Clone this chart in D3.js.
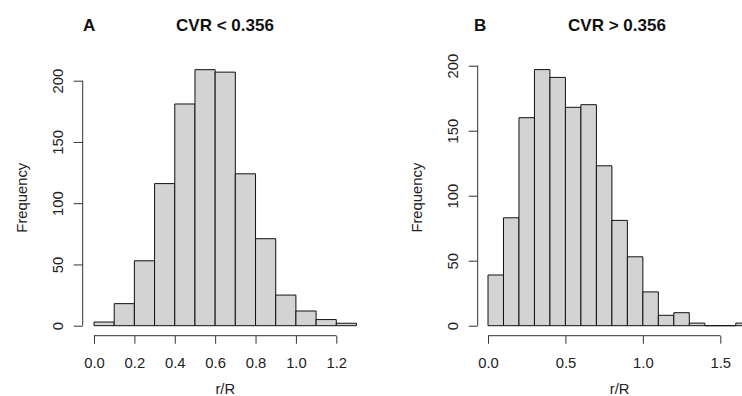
<!DOCTYPE html>
<html>
<head>
<meta charset="utf-8">
<script src="https://cdn.jsdelivr.net/npm/d3@7"></script>
<style>
  body { margin: 0; background: #fff; }
  svg { display: block; font-family: "Liberation Sans", Arial, sans-serif; }
</style>
</head>
<body>
<script>
// histogram data, bins of width 0.1 starting at 0
var binWidth = 0.1;
var countsA = [3, 18, 53, 116, 181, 209, 207, 124, 71, 25, 12, 5, 2];
var countsB = [39, 83, 160, 197, 191, 168, 170, 123, 81, 53, 26, 8, 10, 2, 0, 0, 2];

var xTicksA = [0, 0.2, 0.4, 0.6, 0.8, 1.0, 1.2];
var xTicksB = [0, 0.5, 1.0, 1.5];
var yTicks = [0, 50, 100, 150, 200];

var letters = ["A", "B"];
var titles = ["CVR < 0.356", "CVR > 0.356"];

var svg = d3.select("body")
  .append("svg")
    .attr("width", 742)
    .attr("height", 396);

// panel layouts (pixel positions of the scales)
var panels = [
  { counts: countsA, xTicks: xTicksA, letter: letters[0], title: titles[0],
    x: d3.scaleLinear().domain([0, 1.2]).range([94, 336.3]),
    y: d3.scaleLinear().domain([0, 200]).range([325.7, 80.7]),
    axisX: 82.7, letterX: 83, titleX: 225 },
  { counts: countsB, xTicks: xTicksB, letter: letters[1], title: titles[1],
    x: d3.scaleLinear().domain([0, 1.5]).range([488, 720.3]),
    y: d3.scaleLinear().domain([0, 200]).range([325.7, 65.7]),
    axisX: 477.7, letterX: 474, titleX: 617 }
];

var fmt = d3.format(".1f");

panels.forEach(function(p) {
  var g = svg.append("g");
  var nBins = p.counts.length;

  // bars as closed paths so empty bins still show a line at 0 (like R)
  g.selectAll("path.bar")
    .data(p.counts)
    .enter()
    .append("path")
      .attr("class", "bar")
      .attr("d", function(d, i) {
        var x0 = p.x(i * binWidth), x1 = p.x((i + 1) * binWidth);
        var y0 = p.y(0), y1 = p.y(d);
        return "M" + x0 + "," + y0 + "V" + y1 + "H" + x1 + "V" + y0 + "Z";
      })
      .attr("fill", "#d3d3d3")
      .attr("stroke", "#111")
      .attr("stroke-width", 1);

  // x axis
  var xAxis = d3.axisBottom(p.x)
    .tickValues(p.xTicks)
    .tickFormat(fmt)
    .tickSizeInner(8)
    .tickSizeOuter(0)
    .tickPadding(14);
  var gx = g.append("g")
    .attr("transform", "translate(0,335.7)")
    .call(xAxis);
  gx.select(".domain")
    .attr("d", "M" + p.x(p.xTicks[0]) + ",0H" + p.x(p.xTicks[p.xTicks.length - 1]));

  // y axis, labels turned like R's default
  var yAxis = d3.axisLeft(p.y)
    .tickValues(yTicks)
    .tickSizeInner(9)
    .tickSizeOuter(0);
  var gy = g.append("g")
    .attr("transform", "translate(" + p.axisX + ",0)")
    .call(yAxis);
  gy.select(".domain")
    .attr("d", "M0," + p.y(0) + "V" + p.y(200));
  gy.selectAll("text")
    .attr("transform", "rotate(-90)")
    .attr("x", 0)
    .attr("y", -20)
    .attr("dy", 0)
    .style("text-anchor", "middle");

  g.selectAll(".domain, .tick line")
    .attr("stroke", "#333");
  g.selectAll(".tick text")
    .attr("fill", "#222")
    .style("font-size", "14.8px")
    .style("font-family", "\"Liberation Sans\", Arial, sans-serif");

  // axis labels
  g.append("text")
    .attr("x", p.x(nBins * binWidth / 2))
    .attr("y", 394)
    .attr("text-anchor", "middle")
    .style("font-size", "14.8px")
    .attr("fill", "#222")
    .text("r/R");

  var midY = (p.y(0) + p.y(d3.max(p.counts))) / 2;
  g.append("text")
    .attr("transform", "translate(" + (p.axisX - 56) + "," + midY + ") rotate(-90)")
    .attr("text-anchor", "middle")
    .style("font-size", "14.8px")
    .attr("fill", "#222")
    .text("Frequency");

  // titles
  g.append("text")
    .attr("x", p.letterX)
    .attr("y", 30.5)
    .style("font-size", "17px")
    .style("font-weight", "bold")
    .attr("fill", "#111")
    .text(p.letter);
  g.append("text")
    .attr("x", p.titleX)
    .attr("y", 30.5)
    .attr("text-anchor", "middle")
    .style("font-size", "17px")
    .style("font-weight", "bold")
    .attr("fill", "#111")
    .text(p.title);
});
</script>
</body>
</html>
